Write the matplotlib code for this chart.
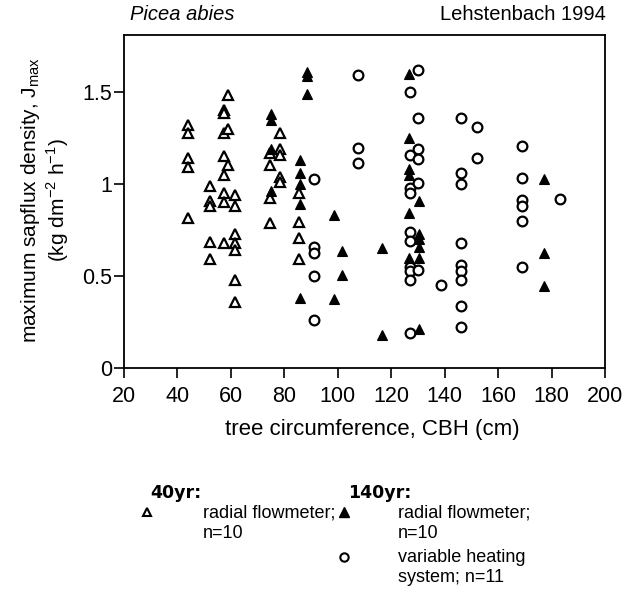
import matplotlib
matplotlib.use("Agg")
import matplotlib.pyplot as plt

plt.rcParams["font.family"] = ["Liberation Sans", "DejaVu Sans"]

# 40yr, radial flowmeter (open triangles): CBH (cm), Jmax
cbh_40 = [44, 44, 44, 44, 44,
          52, 52, 52, 52, 52,
          57.5, 57.5, 57.5, 57.5, 57.5, 57.5, 57.5, 57.5,
          59, 59, 59,
          61.5, 61.5, 61.5, 61.5, 61.5, 61.5, 61.5,
          74.5, 74.5, 74.5, 74.5,
          78.5, 78.5, 78.5, 78.5, 78.5,
          85.5, 85.5, 85.5, 85.5]
jmax_40 = [1.32, 1.28, 1.14, 1.09, 0.815,
           0.99, 0.905, 0.88, 0.685, 0.595,
           1.40, 1.385, 1.28, 1.15, 1.05, 0.95, 0.90, 0.68,
           1.485, 1.30, 1.105,
           0.94, 0.88, 0.73, 0.68, 0.64, 0.48, 0.36,
           1.17, 1.105, 0.925, 0.79,
           1.28, 1.19, 1.16, 1.04, 1.01,
           0.95, 0.795, 0.705, 0.59]

# 140yr, radial flowmeter (filled triangles)
cbh_140_rf = [75, 75, 75, 75,
              86, 86, 86, 86, 86,
              88.5, 88.5, 88.5,
              98.5, 98.5,
              101.5, 101.5,
              116.5, 116.5,
              126.5, 126.5, 126.5, 126.5, 126.5, 126.5,
              130.5, 130.5, 130.5, 130.5, 130.5, 130.5,
              177, 177, 177]
jmax_140_rf = [1.38, 1.35, 1.19, 0.96,
               1.13, 1.06, 1.00, 0.89, 0.38,
               1.61, 1.585, 1.49,
               0.83, 0.375,
               0.635, 0.505,
               0.65, 0.18,
               1.60, 1.25, 1.08, 1.05, 0.84, 0.60,
               0.905, 0.73, 0.70, 0.66, 0.60, 0.21,
               1.03, 0.625, 0.445]

# 140yr, variable heating system (open circles)
cbh_140_vh = [91, 91, 91, 91, 91,
              107.5, 107.5, 107.5,
              127, 127, 127, 127, 127, 127, 127, 127, 127, 127,
              130, 130, 130, 130, 130, 130,
              138.5,
              146, 146, 146, 146, 146, 146, 146, 146, 146,
              152, 152,
              169, 169, 169, 169, 169, 169,
              183]
jmax_140_vh = [1.03, 0.66, 0.625, 0.50, 0.26,
               1.59, 1.195, 1.115,
               1.50, 1.16, 0.98, 0.95, 0.74, 0.69, 0.55, 0.525, 0.48, 0.19,
               1.62, 1.36, 1.19, 1.135, 1.005, 0.53,
               0.45,
               1.36, 1.06, 1.00, 0.68, 0.56, 0.525, 0.48, 0.335, 0.225,
               1.31, 1.14,
               1.205, 1.035, 0.915, 0.88, 0.80, 0.55,
               0.92]

W, H = 625, 589
fig = plt.figure(figsize=(W / 100, H / 100), dpi=100)
ax = fig.add_axes([124 / W, 1 - 368 / H, (605 - 124) / W, (368 - 35) / H])


def fx(x):
    return x / W


def fy(y):
    return 1 - y / H


ms = 7
mew = 1.6
ax.plot(cbh_40, jmax_40, linestyle="none", marker="^", markersize=ms,
        markerfacecolor="white", markeredgecolor="black", markeredgewidth=mew)
ax.plot(cbh_140_vh, jmax_140_vh, linestyle="none", marker="o", markersize=ms,
        markerfacecolor="white", markeredgecolor="black", markeredgewidth=mew)
ax.plot(cbh_140_rf, jmax_140_rf, linestyle="none", marker="^", markersize=ms + 0.5,
        markerfacecolor="black", markeredgecolor="black", markeredgewidth=0.8)

ax.set_xlim(20, 200)
ax.set_ylim(0, 1.81)
ax.set_xticks(range(20, 201, 20))
ax.set_yticks([0, 0.5, 1, 1.5])
ax.set_yticklabels(["0", "0.5", "1", "1.5"])
ax.tick_params(direction="out", length=7, width=1.2, labelsize=15.5, colors="black")
ax.tick_params(axis="x", pad=6)
ax.tick_params(axis="y", pad=1.5)
for s in ax.spines.values():
    s.set_linewidth(1.3)

fig.text(fx(372), fy(430), "tree circumference, CBH (cm)", fontsize=16,
         ha="center", va="center")

fig.text(fx(31), fy(200), "maximum sapflux density, J$_{\\mathregular{max}}$",
         rotation=90, ha="center", va="center", fontsize=15)
fig.text(fx(58), fy(200), "(kg dm$^{\\mathregular{-2}}$ h$^{\\mathregular{-1}}$)",
         rotation=90, ha="center", va="center", fontsize=15)

fig.text(fx(130), fy(14), "Picea abies", style="italic", fontsize=14.5,
         ha="left", va="center")
fig.text(fx(606), fy(14), "Lehstenbach 1994", fontsize=14.5, ha="right", va="center")

# legend
fig.text(fx(150), fy(493), "40yr:", family="DejaVu Sans", fontweight="bold",
         fontsize=12.5, ha="left", va="center")
fig.text(fx(348), fy(493), "140yr:", family="DejaVu Sans", fontweight="bold",
         fontsize=12.5, ha="left", va="center")

fig.lines.append(plt.Line2D([fx(147)], [fy(512)], transform=fig.transFigure, marker="^",
                            markersize=6, markerfacecolor="white", markeredgecolor="black",
                            markeredgewidth=1.5, linestyle="none"))
fig.text(fx(203), fy(513), "radial flowmeter;", fontsize=13, ha="left", va="center")
fig.text(fx(203), fy(533), "n=10", fontsize=13, ha="left", va="center")

fig.lines.append(plt.Line2D([fx(344)], [fy(512)], transform=fig.transFigure, marker="^",
                            markersize=7, markerfacecolor="black", markeredgecolor="black",
                            linestyle="none"))
fig.text(fx(398), fy(513), "radial flowmeter;", fontsize=13, ha="left", va="center")
fig.text(fx(398), fy(533), "n=10", fontsize=13, ha="left", va="center")

fig.lines.append(plt.Line2D([fx(344)], [fy(557)], transform=fig.transFigure, marker="o",
                            markersize=6, markerfacecolor="white", markeredgecolor="black",
                            markeredgewidth=1.5, linestyle="none"))
fig.text(fx(398), fy(557), "variable heating", fontsize=13, ha="left", va="center")
fig.text(fx(398), fy(577), "system; n=11", fontsize=13, ha="left", va="center")

fig.savefig("out.png", dpi=100)
